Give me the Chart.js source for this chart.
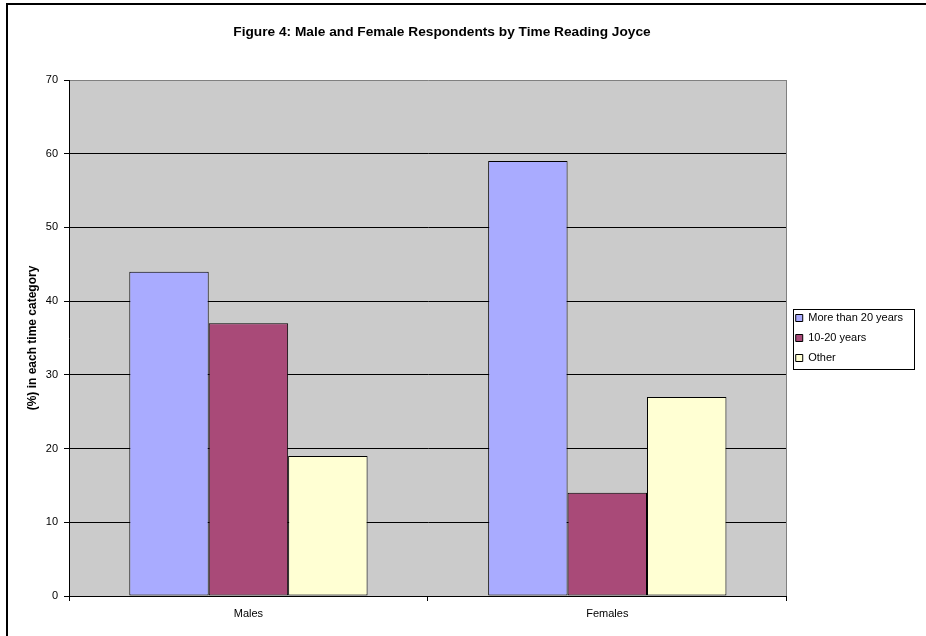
<!DOCTYPE html>
<html>
<head>
<meta charset="utf-8">
<title>Figure 4: Male and Female Respondents by Time Reading Joyce</title>
<script src="https://cdn.jsdelivr.net/npm/chart.js@4/dist/chart.umd.min.js"></script>
<style>
  html, body { margin: 0; padding: 0; background: #ffffff; }
  #wrap { width: 926px; height: 636px; }
</style>
</head>
<body>
<div id="wrap"><canvas id="chart" width="926" height="636"></canvas></div>
<script>
// Respondent groups and the share (%) of each in each reading-time category
const categories = ['Males', 'Females'];
const seriesNames = ['More than 20 years', '10-20 years', 'Other'];
const moreThan20 = [44, 59];
const tenTo20 = [37, 14];
const other = [19, 27];
const yTicks = [0, 10, 20, 30, 40, 50, 60, 70];

const chartTitle = 'Figure 4: Male and Female Respondents by Time Reading Joyce';
const yTitle = '(%) in each time category';

const FONT = '"Liberation Sans", Arial, Helvetica, sans-serif';
const PLOT_BG = '#cbcbcb';
const PLOT_EDGE = '#808080';

// Grey plot area, its grey right edge, the frame, the heading and the legend box
const decorations = {
  id: 'decorations',
  beforeDraw(chart) {
    const { ctx, chartArea: a } = chart;
    ctx.save();
    ctx.fillStyle = PLOT_BG;
    ctx.fillRect(a.left, a.top, a.right - a.left, a.bottom - a.top);
    ctx.restore();
  },
  beforeDatasetsDraw(chart) {
    const { ctx, chartArea: a } = chart;
    ctx.save();
    ctx.strokeStyle = PLOT_EDGE;
    ctx.lineWidth = 1;
    ctx.beginPath();
    ctx.moveTo(Math.round(a.right) - 0.5, a.top);
    ctx.lineTo(Math.round(a.right) - 0.5, a.bottom);
    ctx.stroke();
    ctx.restore();
  },
  afterDraw(chart) {
    const { ctx } = chart;
    ctx.save();
    // frame
    ctx.fillStyle = '#000000';
    ctx.fillRect(6, 3, 920, 2);
    ctx.fillRect(6, 3, 2, 633);
    // heading
    ctx.font = 'bold 13.7px ' + FONT;
    ctx.textAlign = 'center';
    ctx.textBaseline = 'middle';
    ctx.fillText(chartTitle, 442, 32);
    // box round the legend
    const lg = chart.legend;
    if (lg && lg.legendHitBoxes && lg.legendHitBoxes.length) {
      const hb = lg.legendHitBoxes;
      const x0 = hb[0].left - 3;
      const y0 = hb[0].top - 4;
      let x1 = 0;
      hb.forEach(h => { x1 = Math.max(x1, h.left + h.width); });
      x1 += 11;
      const last = hb[hb.length - 1];
      const y1 = last.top + last.height + 5;
      ctx.strokeStyle = '#000000';
      ctx.lineWidth = 1;
      ctx.strokeRect(Math.round(x0) + 0.5, Math.round(y0) + 0.5, Math.round(x1 - x0), Math.round(y1 - y0));
    }
    ctx.restore();
  }
};

const colors = ['#a9abff', '#a94a78', '#ffffd3'];
const values = [moreThan20, tenTo20, other];

const datasets = seriesNames.map((name, i) => ({
  label: name,
  data: values[i],
  backgroundColor: colors[i],
  borderColor: '#000000',
  borderWidth: 1,
  borderSkipped: false,
  barPercentage: 1.0,
  categoryPercentage: 0.664
}));

new Chart(document.getElementById('chart'), {
  type: 'bar',
  data: { labels: categories, datasets },
  plugins: [decorations],
  options: {
    responsive: false,
    animation: false,
    layout: { padding: { left: 8, right: 13, top: 80, bottom: 0 } },
    plugins: {
      title: { display: false },
      tooltip: { enabled: false },
      legend: {
        position: 'right',
        align: 'center',
        fullSize: false,
        labels: {
          boxWidth: 7,
          boxHeight: 7,
          padding: 9,
          color: '#000000',
          font: { family: FONT, size: 11 }
        }
      }
    },
    scales: {
      x: {
        grid: {
          offset: true,
          drawOnChartArea: false,
          color: '#000000',
          tickLength: 5
        },
        border: { color: '#000000', width: 1 },
        ticks: {
          color: '#000000',
          padding: 6,
          font: { family: FONT, size: 11 }
        },
        afterFit(scale) { scale.height = 40; }
      },
      y: {
        min: 0,
        max: 70,
        afterBuildTicks(scale) { scale.ticks = yTicks.map(v => ({ value: v })); },
        grid: {
          color: ctx => (ctx.tick && ctx.tick.value === 70 ? PLOT_EDGE : '#000000'),
          tickColor: '#000000',
          tickLength: 5,
          lineWidth: 1
        },
        border: { color: '#000000', width: 1 },
        ticks: {
          color: '#000000',
          padding: 6,
          font: { family: FONT, size: 11 }
        },
        title: {
          display: true,
          text: yTitle,
          color: '#000000',
          padding: { top: 17, bottom: 0 },
          font: { family: FONT, size: 12, weight: 'bold' }
        },
        afterFit(scale) { scale.width = 61; }
      }
    }
  }
});
</script>
</body>
</html>
